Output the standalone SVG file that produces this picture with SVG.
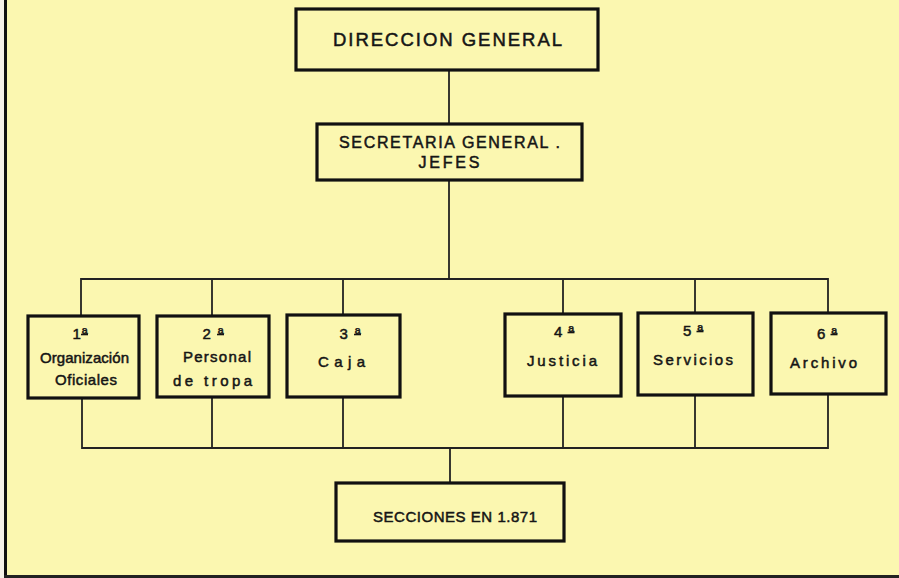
<svg xmlns="http://www.w3.org/2000/svg" width="899" height="578" viewBox="0 0 899 578">
<style>
.box{fill:none;stroke:#111;stroke-width:3.2}
.ln{fill:none;stroke:#222;stroke-width:1.8}
.ul{stroke:#151515;stroke-width:1.6}
text{font-family:"Liberation Sans","DejaVu Sans",sans-serif;fill:#151515;stroke:#151515;stroke-width:0.5;text-anchor:middle;dominant-baseline:central}
.t1{font-size:18.5px}
.t2{font-size:16px}
.s{font-size:15px}
</style>
<rect x="0" y="0" width="899" height="578" fill="#FBF7B0"/>
<rect x="0" y="0" width="4" height="578" fill="#F6F2E8"/>
<rect x="4" y="0" width="3" height="578" fill="#111"/>
<rect x="4" y="575" width="895" height="3" fill="#222"/>
<g id="connectors">
<line class="ln" x1="449" y1="70" x2="449" y2="123"/>
<line class="ln" x1="449" y1="180" x2="449" y2="279"/>
<polyline class="ln" points="81,316 81,279 828,279 828,313"/>
<line class="ln" x1="212" y1="279" x2="212" y2="316"/>
<line class="ln" x1="343" y1="279" x2="343" y2="315"/>
<line class="ln" x1="563" y1="279" x2="563" y2="314"/>
<line class="ln" x1="695" y1="279" x2="695" y2="313"/>
<polyline class="ln" points="82,397 82,448 828,448 828,394"/>
<line class="ln" x1="212" y1="397" x2="212" y2="448"/>
<line class="ln" x1="343" y1="397" x2="343" y2="448"/>
<line class="ln" x1="563" y1="396" x2="563" y2="448"/>
<line class="ln" x1="695" y1="395" x2="695" y2="448"/>
<line class="ln" x1="450" y1="448" x2="450" y2="482"/>
</g>
<g id="direccion">
<rect class="box" x="296" y="9" width="302" height="61"/>
<text class="t1" x="447.5" y="39" textLength="229" lengthAdjust="spacing">DIRECCION  GENERAL</text>
</g>
<g id="secretaria">
<rect class="box" x="317" y="124" width="265" height="56"/>
<text class="t2" x="449.5" y="142" textLength="221" lengthAdjust="spacing">SECRETARIA GENERAL .</text>
<text class="t2" x="449" y="162" textLength="61" lengthAdjust="spacing">JEFES</text>
</g>
<g id="s1">
<rect class="box" x="28" y="316" width="111" height="82"/>
<text class="s" x="80" y="333" textLength="15" lengthAdjust="spacing">1ª</text>
<line class="ul" x1="81" y1="334.5" x2="88" y2="334.5"/>
<text class="s" x="84.5" y="357" textLength="89" lengthAdjust="spacing">Organización</text>
<text class="s" x="86" y="379" textLength="62" lengthAdjust="spacing">Oficiales</text>
</g>
<g id="s2">
<rect class="box" x="157" y="316" width="112" height="81"/>
<text class="s" x="213" y="333" textLength="21" lengthAdjust="spacing">2ª</text>
<line class="ul" x1="217" y1="334.5" x2="224" y2="334.5"/>
<text class="s" x="217" y="356" textLength="68" lengthAdjust="spacing">Personal</text>
<text class="s" x="212.5" y="380" textLength="79" lengthAdjust="spacing">de tropa</text>
</g>
<g id="s3">
<rect class="box" x="287" y="315" width="113" height="82"/>
<text class="s" x="350" y="333" textLength="21" lengthAdjust="spacing">3ª</text>
<line class="ul" x1="354" y1="334.5" x2="361" y2="334.5"/>
<text class="s" x="341.5" y="361" textLength="47" lengthAdjust="spacing">Caja</text>
</g>
<g id="s4">
<rect class="box" x="505" y="314" width="116" height="82"/>
<text class="s" x="564" y="331" textLength="20" lengthAdjust="spacing">4ª</text>
<line class="ul" x1="567.5" y1="332.5" x2="574.5" y2="332.5"/>
<text class="s" x="562" y="360" textLength="70" lengthAdjust="spacing">Justicia</text>
</g>
<g id="s5">
<rect class="box" x="638" y="313" width="115" height="82"/>
<text class="s" x="693" y="330" textLength="20" lengthAdjust="spacing">5ª</text>
<line class="ul" x1="696.5" y1="331.5" x2="703.5" y2="331.5"/>
<text class="s" x="693" y="359" textLength="80" lengthAdjust="spacing">Servicios</text>
</g>
<g id="s6">
<rect class="box" x="771" y="313" width="115" height="81"/>
<text class="s" x="827" y="333" textLength="20" lengthAdjust="spacing">6ª</text>
<line class="ul" x1="830.5" y1="334.5" x2="837.5" y2="334.5"/>
<text class="s" x="823.5" y="362" textLength="67" lengthAdjust="spacing">Archivo</text>
</g>
<g id="secciones">
<rect class="box" x="336" y="483" width="228" height="58"/>
<text class="s" x="455" y="516" textLength="164" lengthAdjust="spacing">SECCIONES  EN 1.871</text>
</g>
</svg>
